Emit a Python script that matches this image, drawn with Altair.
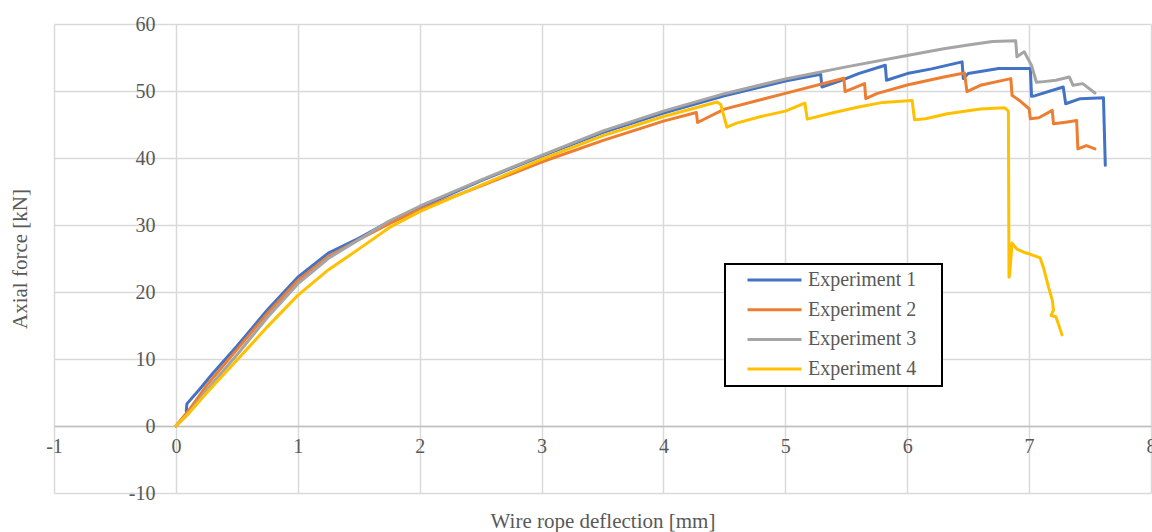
import altair as alt
import pandas as pd

series_names = ["Experiment 1", "Experiment 2", "Experiment 3", "Experiment 4"]
series_colors = ["#4472C4", "#ED7D31", "#A5A5A5", "#FFC000"]

exp1_x = [0.085, 0.09, 0.2, 0.3, 0.5, 0.75, 1.0, 1.25, 1.5, 1.75, 2.0, 2.5, 3.0, 3.5, 4.0, 4.5, 5.0,
          5.29, 5.30, 5.45, 5.6, 5.82, 5.83, 6.0, 6.2, 6.45, 6.46, 6.5, 6.75, 7.01, 7.02, 7.05, 7.28,
          7.30, 7.42, 7.61, 7.625]
exp1_y = [2.2, 3.3, 5.6, 7.8, 11.9, 17.3, 22.2, 25.8, 28.0, 30.5, 32.6, 36.6, 40.3, 43.8, 46.7, 49.3, 51.5,
          52.5, 50.6, 51.5, 52.6, 53.85, 51.6, 52.6, 53.3, 54.35, 51.85, 52.6, 53.35, 53.35, 49.2, 49.3, 50.6,
          48.1, 48.85, 49.0, 38.9]

exp2_x = [0.0, 0.1, 0.25, 0.5, 0.75, 1.0, 1.25, 1.5, 1.75, 2.0, 2.5, 3.0, 3.5, 4.0, 4.27, 4.28, 4.5, 5.0,
          5.48, 5.49, 5.65, 5.66, 5.75, 6.0, 6.3, 6.47, 6.49, 6.6, 6.85, 6.86, 6.92, 7.0, 7.01, 7.08, 7.19,
          7.20, 7.3, 7.39, 7.40, 7.47, 7.54]
exp2_y = [0.0, 2.2, 6.0, 11.4, 16.8, 21.7, 25.3, 27.8, 30.2, 32.3, 35.8, 39.4, 42.6, 45.5, 46.8, 45.3, 47.3, 49.65,
          51.9, 49.9, 51.1, 48.85, 49.6, 50.9, 52.1, 52.7, 49.9, 50.85, 51.85, 49.35, 48.6, 47.35, 45.85, 46.0, 47.1,
          45.1, 45.35, 45.6, 41.35, 41.85, 41.35]

exp3_x = [0.0, 0.1, 0.25, 0.5, 0.75, 1.0, 1.25, 1.5, 1.75, 2.0, 2.5, 3.0, 3.5, 4.0, 4.5, 5.0, 5.5, 6.0,
          6.3, 6.5, 6.7, 6.89, 6.90, 6.96, 7.0, 7.02, 7.06, 7.12, 7.22, 7.33, 7.36, 7.44, 7.54]
exp3_y = [0.0, 1.8, 5.3, 10.6, 16.2, 21.2, 25.0, 27.8, 30.6, 32.8, 36.7, 40.4, 44.0, 47.0, 49.6, 51.8, 53.6, 55.3,
          56.3, 56.85, 57.4, 57.5, 55.1, 55.85, 54.5, 53.8, 51.3, 51.4, 51.6, 52.1, 50.85, 51.1, 49.7]

exp4_x = [0.0, 0.1, 0.25, 0.5, 0.75, 1.0, 1.25, 1.5, 1.75, 2.0, 2.5, 3.0, 3.5, 4.0, 4.44, 4.47, 4.52, 4.6,
          4.8, 5.0, 5.16, 5.18, 5.4, 5.6, 5.8, 6.04, 6.06, 6.15, 6.33, 6.6, 6.8, 6.83, 6.835, 6.84, 6.86,
          6.9, 6.96, 7.0, 7.09, 7.12, 7.16, 7.19, 7.2, 7.18, 7.22, 7.27]
exp4_y = [0.0, 1.8, 4.9, 9.8, 14.8, 19.5, 23.3, 26.4, 29.6, 32.0, 35.9, 39.8, 43.3, 46.2, 48.35, 48.0, 44.6, 45.2,
          46.2, 47.0, 48.2, 45.8, 46.8, 47.6, 48.3, 48.6, 45.7, 45.85, 46.6, 47.3, 47.5, 47.0, 22.2, 22.5, 27.3,
          26.4, 25.9, 25.7, 25.1, 23.5, 20.7, 18.8, 17.3, 16.5, 16.3, 13.6]

x_ticks = [-1, 0, 1, 2, 3, 4, 5, 6, 7, 8]
y_ticks = [-10, 0, 10, 20, 30, 40, 50, 60]

rows = []
for name, xs, ys in zip(series_names, [exp1_x, exp2_x, exp3_x, exp4_x], [exp1_y, exp2_y, exp3_y, exp4_y]):
    for i, (xv, yv) in enumerate(zip(xs, ys)):
        rows.append({"series": name, "x": xv, "y": yv, "i": i})
df = pd.DataFrame(rows)

FONT = "Liberation Serif, Times New Roman, serif"
TXT = "#595959"
GRID = "#d9d9d9"
LABEL_EXPR = "replace(datum.label, '\u2212', '-')"

chart = alt.Chart(df).mark_line(strokeWidth=3, strokeJoin="round", strokeCap="round").encode(
    x=alt.X("x:Q",
            scale=alt.Scale(domain=[-1, 8], nice=False, zero=False),
            axis=alt.Axis(values=x_ticks, title="Wire rope deflection [mm]", offset=-67,
                          grid=True, gridColor=GRID, gridWidth=1.5,
                          domain=True, domainColor="#bfbfbf", domainWidth=1.5,
                          ticks=False, tickSize=0, labelPadding=10, labelFlush=False,
                          labelExpr=LABEL_EXPR,
                          labelFont=FONT, labelFontSize=20, labelColor=TXT,
                          titleFont=FONT, titleFontSize=21, titleFontWeight="normal", titleColor=TXT,
                          titlePadding=54)),
    y=alt.Y("y:Q",
            scale=alt.Scale(domain=[-10, 60], nice=False, zero=False),
            axis=alt.Axis(values=y_ticks, title="Axial force [kN]", offset=-122,
                          grid=True, gridColor=GRID, gridWidth=1.5,
                          domain=False, ticks=False, tickSize=0, labelPadding=21, labelFlush=False,
                          labelExpr=LABEL_EXPR,
                          labelFont=FONT, labelFontSize=20, labelColor=TXT,
                          titleFont=FONT, titleFontSize=21, titleFontWeight="normal", titleColor=TXT,
                          titlePadding=98)),
    color=alt.Color("series:N",
                    scale=alt.Scale(domain=series_names, range=series_colors),
                    legend=alt.Legend(title="\u00a0", titleOrient="right", titleFontSize=8,
                                      titlePadding=20,
                                      orient="none", legendX=671, legendY=240,
                                      symbolType="stroke", symbolSize=2916, symbolStrokeWidth=3,
                                      clipHeight=20,
                                      symbolOffset=15, labelOffset=5,
                                      labelFont=FONT, labelFontSize=20, labelColor=TXT,
                                      rowPadding=9.7, padding=6,
                                      fillColor="white", strokeColor="black")),
    order=alt.Order("i:Q"),
).properties(
    width=1097, height=469,
    autosize=alt.AutoSizeParams(type="none"),
    padding={"left": 54, "top": 24, "right": 1, "bottom": 39},
).configure_view(strokeWidth=0).configure_legend(strokeWidth=2)

chart.save("out.html", embed_options={"renderer": "svg", "actions": False})
